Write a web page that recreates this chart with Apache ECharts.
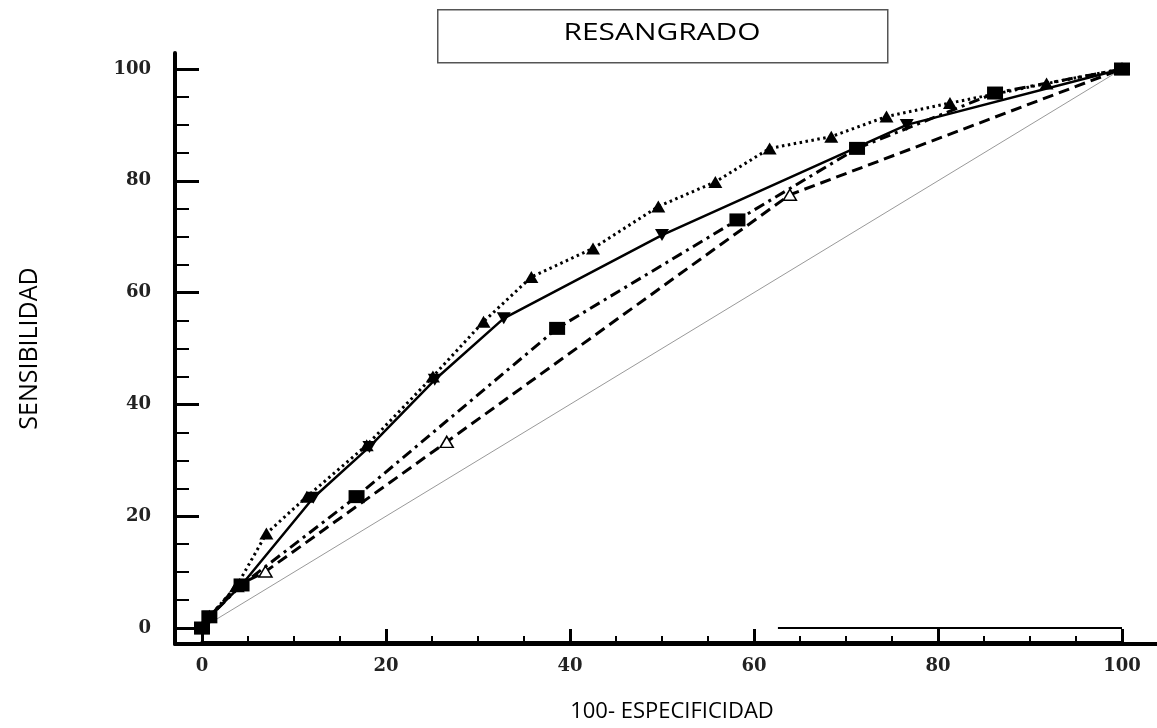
<!DOCTYPE html>
<html>
<head>
<meta charset="utf-8">
<script src="https://cdn.jsdelivr.net/npm/echarts@6/dist/echarts.min.js"></script>
<style>
html,body{margin:0;padding:0;background:#fff;}
#chart{width:1157px;height:728px;}
</style>
</head>
<body>
<div id="chart"></div>
<script>
// ---- Data ----
const chartTitle = 'RESANGRADO';
const xAxisTitle = '100- ESPECIFICIDAD';
const yAxisTitle = 'SENSIBILIDAD';
const tickValues = [0, 20, 40, 60, 80, 100];

// dotted line, filled up-triangles
const dottedX = [0, 0.8, 3.8, 7.0, 11.4, 17.9, 25.1, 30.6, 35.8, 42.5, 49.6, 55.8, 61.7, 68.4, 74.4, 81.3, 91.8, 100];
const dottedY = [0, 2.0, 7.6, 16.9, 23.5, 32.7, 45.0, 54.8, 62.8, 67.9, 75.4, 79.8, 85.8, 87.9, 91.5, 93.9, 97.4, 100];

// solid line, filled down-triangles
const solidX = [0, 0.8, 4.3, 12.1, 18.2, 25.3, 32.8, 50.0, 76.6, 100];
const solidY = [0, 2.0, 7.7, 23.3, 32.4, 44.4, 55.4, 70.3, 90.0, 100];

// dash-dot line, filled squares
const dashDotX = [0, 0.8, 4.3, 16.8, 38.6, 58.2, 71.2, 86.2, 100];
const dashDotY = [0, 2.0, 7.7, 23.5, 53.6, 73.0, 85.8, 95.7, 100];

// dashed line, open triangles
const dashedX = [0, 0.8, 3.8, 6.9, 26.6, 63.9, 100];
const dashedY = [0, 2.0, 7.5, 10.1, 33.3, 77.5, 100];

// reference diagonal
const diagX = [0, 100];
const diagY = [0, 100];

// stray horizontal segment at bottom right
const baseX = [62.6, 100];
const baseY = [0, 0];

const pairs = (xs, ys) => xs.map((x, i) => [x, ys[i]]);

const chart = echarts.init(document.getElementById('chart'));

const labelStyle = {
  fontFamily: 'DejaVu Serif',
  fontSize: 18,
  fontWeight: 'bold',
  color: '#222'
};

const option = {
  backgroundColor: '#fff',
  animation: false,
  grid: [
    { left: 202, right: 35, top: 69, bottom: 99.5 },
    { left: 175, right: 0, top: 53, bottom: 84 }
  ],
  xAxis: [
    {
      gridIndex: 0, type: 'value', min: 0, max: 100, interval: 20,
      offset: 15,
      axisLine: { show: true, onZero: false, lineStyle: { color: '#000', width: 4 } },
      axisTick: { show: true, inside: true, length: 14, lineStyle: { color: '#000', width: 3 } },
      minorTick: { show: true, splitNumber: 4, length: 7, lineStyle: { color: '#000', width: 2 } },
      splitLine: { show: false },
      axisLabel: Object.assign({ margin: 14 }, labelStyle),
      name: xAxisTitle,
      nameLocation: 'middle',
      nameGap: 58,
      nameTextStyle: { fontFamily: 'Open Sans', fontSize: 22, color: '#000', padding: [0, 0, 0, 20] }
    },
    {
      gridIndex: 1, type: 'value', min: 0, max: 1,
      axisLine: { show: true, onZero: false, lineStyle: { color: '#000', width: 4 } },
      axisTick: { show: false }, axisLabel: { show: false }, splitLine: { show: false }
    }
  ],
  yAxis: [
    {
      gridIndex: 0, type: 'value', min: 0, max: 100, interval: 20,
      offset: 27,
      axisLine: { show: true, onZero: false, lineStyle: { color: '#000', width: 4 } },
      axisTick: { show: true, inside: true, length: 24, lineStyle: { color: '#000', width: 3 } },
      minorTick: { show: true, splitNumber: 4, length: 14, lineStyle: { color: '#000', width: 2 } },
      splitLine: { show: false },
      axisLabel: Object.assign({ margin: 24 }, labelStyle),
      name: yAxisTitle,
      nameLocation: 'middle',
      nameGap: 133,
      nameRotate: 90,
      nameTextStyle: { fontFamily: 'Open Sans', fontSize: 25, color: '#000' }
    },
    {
      gridIndex: 1, type: 'value', min: 0, max: 1,
      axisLine: { show: true, onZero: false, lineStyle: { color: '#000', width: 4 } },
      axisTick: { show: false }, axisLabel: { show: false }, splitLine: { show: false }
    }
  ],
  graphic: [
    {
      type: 'rect', left: 437, top: 9,
      shape: { width: 450, height: 53 },
      style: { fill: '#fff', stroke: '#555', lineWidth: 1.5 }
    },
    {
      type: 'text', x: 662, y: 33, scaleX: 1.3,
      style: { text: chartTitle, x: 0, y: 0, align: 'center', verticalAlign: 'middle',
               font: '500 23px "Open Sans"', fill: '#000' }
    }
  ],
  series: [
    {
      type: 'line', name: 'diagonal', xAxisIndex: 0, yAxisIndex: 0,
      data: pairs(diagX, diagY), showSymbol: false, symbol: 'none',
      lineStyle: { color: '#999', width: 1 }, z: 1
    },
    {
      type: 'line', name: 'base', xAxisIndex: 0, yAxisIndex: 0,
      data: pairs(baseX, baseY), symbol: 'none',
      lineStyle: { color: '#000', width: 2 }, z: 1
    },
    {
      type: 'line', name: 'dashed', xAxisIndex: 0, yAxisIndex: 0,
      data: pairs(dashedX, dashedY),
      symbol: 'triangle', symbolSize: [13, 11],
      itemStyle: { color: '#fff', borderColor: '#000', borderWidth: 1.5 },
      lineStyle: { color: '#000', width: 3, type: [11, 6] }, z: 2
    },
    {
      type: 'line', name: 'dashdot', xAxisIndex: 0, yAxisIndex: 0,
      data: pairs(dashDotX, dashDotY),
      symbol: 'rect', symbolSize: [16, 13],
      itemStyle: { color: '#000' },
      lineStyle: { color: '#000', width: 3, type: [11, 5, 3, 5] }, z: 3
    },
    {
      type: 'line', name: 'solid', xAxisIndex: 0, yAxisIndex: 0,
      data: pairs(solidX, solidY),
      symbol: 'triangle', symbolRotate: 180, symbolSize: [14, 12],
      itemStyle: { color: '#000' },
      lineStyle: { color: '#000', width: 2.5, type: 'solid' }, z: 4
    },
    {
      type: 'line', name: 'dotted', xAxisIndex: 0, yAxisIndex: 0,
      data: pairs(dottedX, dottedY),
      symbol: 'triangle', symbolSize: [14, 12],
      itemStyle: { color: '#000' },
      lineStyle: { color: '#000', width: 3, type: [2.5, 3.5] }, z: 5
    }
  ]
};

chart.setOption(option);
</script>
</body>
</html>
